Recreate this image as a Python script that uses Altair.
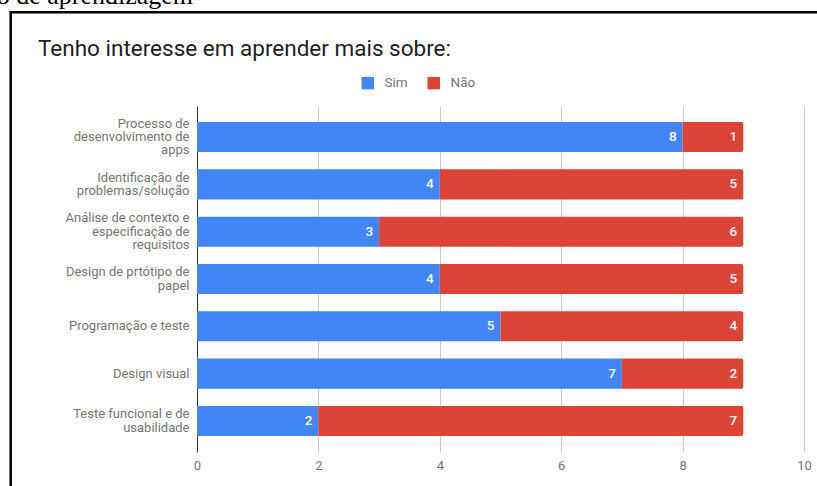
import altair as alt
import pandas as pd

# Topics, wrapped the way they appear on the axis
topic_lines = [
    ["Processo de", "desenvolvimento de", "apps"],
    ["Identificação de", "problemas/solução"],
    ["Análise de contexto e", "especificação de", "requisitos"],
    ["Design de prtótipo de", "papel"],
    ["Programação e teste"],
    ["Design visual"],
    ["Teste funcional e de", "usabilidade"],
]
sim = [8, 4, 3, 4, 5, 7, 2]
nao = [1, 5, 6, 5, 4, 2, 7]
series = ["Sim", "Não"]
series_colors = ["#4285F4", "#DB4437"]
x_ticks = [0, 2, 4, 6, 8, 10]

title_text = "Tenho interesse em aprender mais sobre:"
caption_text = "o de aprendizagem"

topics = ["\n".join(lines) for lines in topic_lines]

rows = []
for topic, s, n in zip(topics, sim, nao):
    rows.append({"topic": topic, "serie": "Sim", "valor": s, "inicio": 0, "fim": s})
    rows.append({"topic": topic, "serie": "Não", "valor": n, "inicio": s, "fim": s + n})
df = pd.DataFrame(rows)

grey = "#757575"
line_h = 13.4

# multi-line labels are anchored on their first line; shift them up to centre the block
n_lines = "length(split(datum.value, '\\n'))"
label_shift = {
    "condition": [
        {"test": f"{n_lines} == 3", "value": -line_h},
        {"test": f"{n_lines} == 2", "value": -line_h / 2},
    ],
    "value": 0,
}

y_enc = alt.Y(
    "topic:N",
    sort=topics,
    title=None,
    scale=alt.Scale(paddingInner=0.364, paddingOuter=0.339),
    axis=alt.Axis(
        labelExpr="split(datum.label, '\\n')",
        labelLineHeight=line_h,
        labelFontSize=13,
        labelColor=grey,
        labelOffset=label_shift,
        ticks=False,
        labelPadding=8,
        domainColor="#333333",
        grid=False,
        labelLimit=0,
    ),
)

x_scale = alt.Scale(domain=[0, 10], nice=False)
x_axis = alt.Axis(
    values=x_ticks,
    domain=False,
    ticks=False,
    gridColor="#cccccc",
    labelColor=grey,
    labelFontSize=13,
    labelPadding=7,
    labelFlush=False,
)

color_enc = alt.Color(
    "serie:N",
    scale=alt.Scale(domain=series, range=series_colors),
    legend=alt.Legend(
        title=None,
        orient="none",
        legendX=164,
        legendY=-30,
        direction="horizontal",
        symbolType="square",
        symbolSize=156,
        symbolStrokeWidth=0,
        labelFontSize=13.5,
        labelColor=grey,
        labelOffset=10,
        columnPadding=19,
        padding=0,
    ),
)

base = alt.Chart(df)

sim_bars = base.transform_filter(alt.datum.serie == "Sim").mark_bar().encode(
    x=alt.X("inicio:Q", scale=x_scale, axis=x_axis, title=None),
    x2="fim:Q",
    y=y_enc,
    color=color_enc,
)

nao_bars = base.transform_filter(alt.datum.serie == "Não").mark_bar(
    cornerRadiusTopRight=2, cornerRadiusBottomRight=2
).encode(
    x=alt.X("inicio:Q", scale=x_scale, axis=x_axis, title=None),
    x2="fim:Q",
    y=y_enc,
    color=color_enc,
)

value_labels = base.mark_text(
    align="right", baseline="middle", dx=-6, color="white", fontSize=13.5, fontWeight=500
).encode(
    x=alt.X("fim:Q", scale=x_scale, axis=x_axis, title=None),
    y=y_enc,
    text="valor:Q",
)

deco = alt.Chart(pd.DataFrame({"k": [0]}))

frame = deco.mark_rect(fill="transparent", stroke="black", strokeWidth=2.5).encode(
    x=alt.value(-186.3), x2=alt.value(650), y=alt.value(-93.7), y2=alt.value(400)
)

heading = deco.mark_text(
    text=title_text, align="left", baseline="alphabetic", fontSize=22.5, color="#212121"
).encode(x=alt.value(-159), y=alt.value(-50))

caption = deco.mark_text(
    text=caption_text, align="right", baseline="alphabetic", fontSize=26,
    font="Liberation Serif", color="black"
).encode(x=alt.value(-4), y=alt.value(-102.5))

chart = alt.layer(frame, sim_bars, nao_bars, value_labels, heading, caption).properties(
    width=607,
    height=346,
    padding={"left": 197, "top": 106, "right": 13, "bottom": 34},
    autosize=alt.AutoSizeParams(type="none"),
).configure(font="Roboto").configure_view(strokeWidth=0)

chart.save("out.html", embed_options={"renderer": "svg", "actions": False})
